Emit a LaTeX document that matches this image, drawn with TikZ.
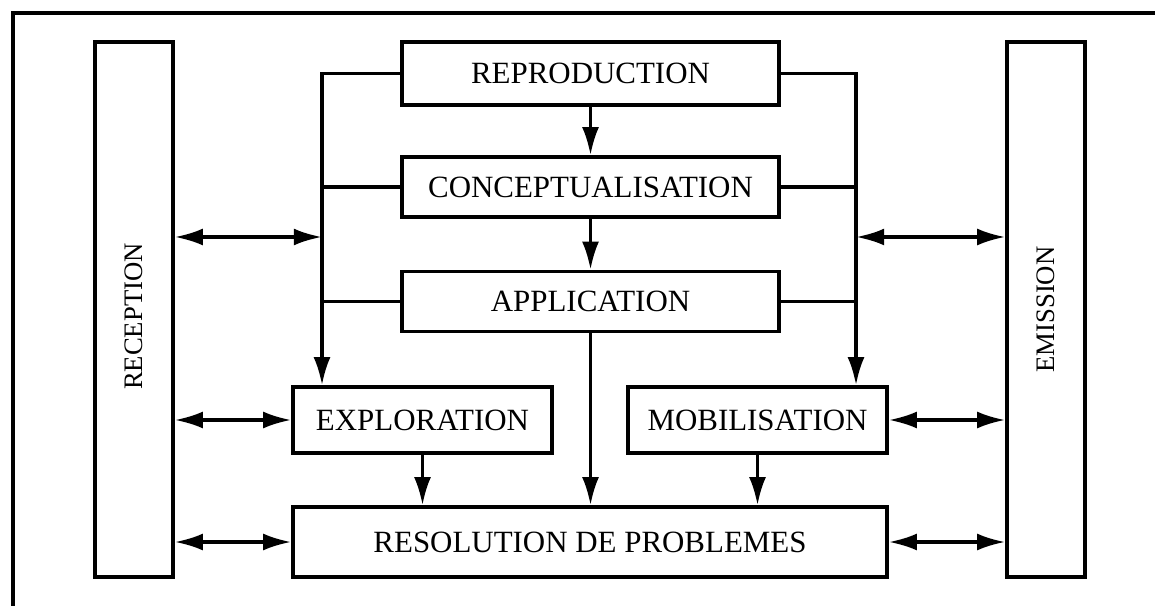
\documentclass[tikz,border=0pt]{standalone}
\usepackage{fontspec}
\setmainfont{Liberation Serif}
\usepackage{tikz}
\usetikzlibrary{arrows.meta,positioning,calc}
\tikzset{
  etape/.style={rectangle, draw=black, line width=2.4pt, fill=white,
                inner sep=0pt, font=\fontsize{22}{24}\selectfont},
  pilier/.style={rectangle, draw=black, line width=2.4pt, minimum width=13.375cm,
                 minimum height=1.95cm, inner sep=0pt, rotate=90,
                 font=\fontsize{19}{22}\selectfont},
  arr/.style={-{Latex[length=20pt,width=12pt]}, line width=2.4pt},
  darr/.style={{Latex[length=20pt,width=12pt]}-{Latex[length=20pt,width=12pt]}, line width=2.4pt},
  fil/.style={line width=2.4pt},
}

\begin{document}
\begin{tikzpicture}
    \useasboundingbox (0,0) rectangle (28.875,15.125);
    \draw[line width=3.2pt] (0.325,-1) rectangle (30,14.8);

    % colonnes laterales
    \node[pilier] (recep) at (3.35,7.3875) {RECEPTION\hspace*{0.35cm}};
    \node[pilier] (emis)  at (26.15,7.3875) {EMISSION};

    % etapes centrales
    \node[etape, minimum width=9.425cm, minimum height=1.575cm] (repro) at (14.7625,13.2875) {REPRODUCTION};
    \node[etape, minimum width=9.425cm, minimum height=1.5cm]   (conc)  at (14.7625,10.45)   {CONCEPTUALISATION};
    \node[etape, minimum width=9.425cm, minimum height=1.5cm]   (appl)  at (14.7625,7.5875)  {APPLICATION};
    \node[etape, minimum width=6.475cm, minimum height=1.65cm]  (expl)  at (10.5625,4.625)   {EXPLORATION};
    \node[etape, minimum width=6.475cm, minimum height=1.65cm]  (mobi)  at (18.9375,4.625)   {MOBILISATION};
    \node[etape, minimum width=14.85cm, minimum height=1.75cm]  (reso)  at (14.75,1.575)     {RESOLUTION DE PROBLEMES};

    % bus verticaux
    \coordinate (busG) at (8.05,9.2);
    \coordinate (busD) at (21.4,9.2);

    \draw[arr] (repro) -- (conc);
    \draw[arr] (conc) -- (appl);
    \draw[arr] (appl.south) -- (appl.south |- reso.north);
    \draw[arr] (expl) -- (expl |- reso.north);
    \draw[arr] (mobi) -- (mobi |- reso.north);

    \draw[arr] (repro.west) -| (busG |- expl.north);
    \draw[fil] (conc.west) -- (conc.west -| busG);
    \draw[fil] (appl.west) -- (appl.west -| busG);
    \draw[arr] (repro.east) -| (busD |- mobi.north);
    \draw[fil] (conc.east) -- (conc.east -| busD);
    \draw[fil] (appl.east) -- (appl.east -| busD);

    % echanges avec reception et emission
    \draw[darr] (busG -| recep.south) -- (busG);
    \draw[darr] (expl.west -| recep.south) -- (expl.west);
    \draw[darr] (reso.west -| recep.south) -- (reso.west);
    \draw[darr] (busD) -- (busD -| emis.north);
    \draw[darr] (mobi.east) -- (mobi.east -| emis.north);
    \draw[darr] (reso.east) -- (reso.east -| emis.north);
  \end{tikzpicture}
\end{document}
